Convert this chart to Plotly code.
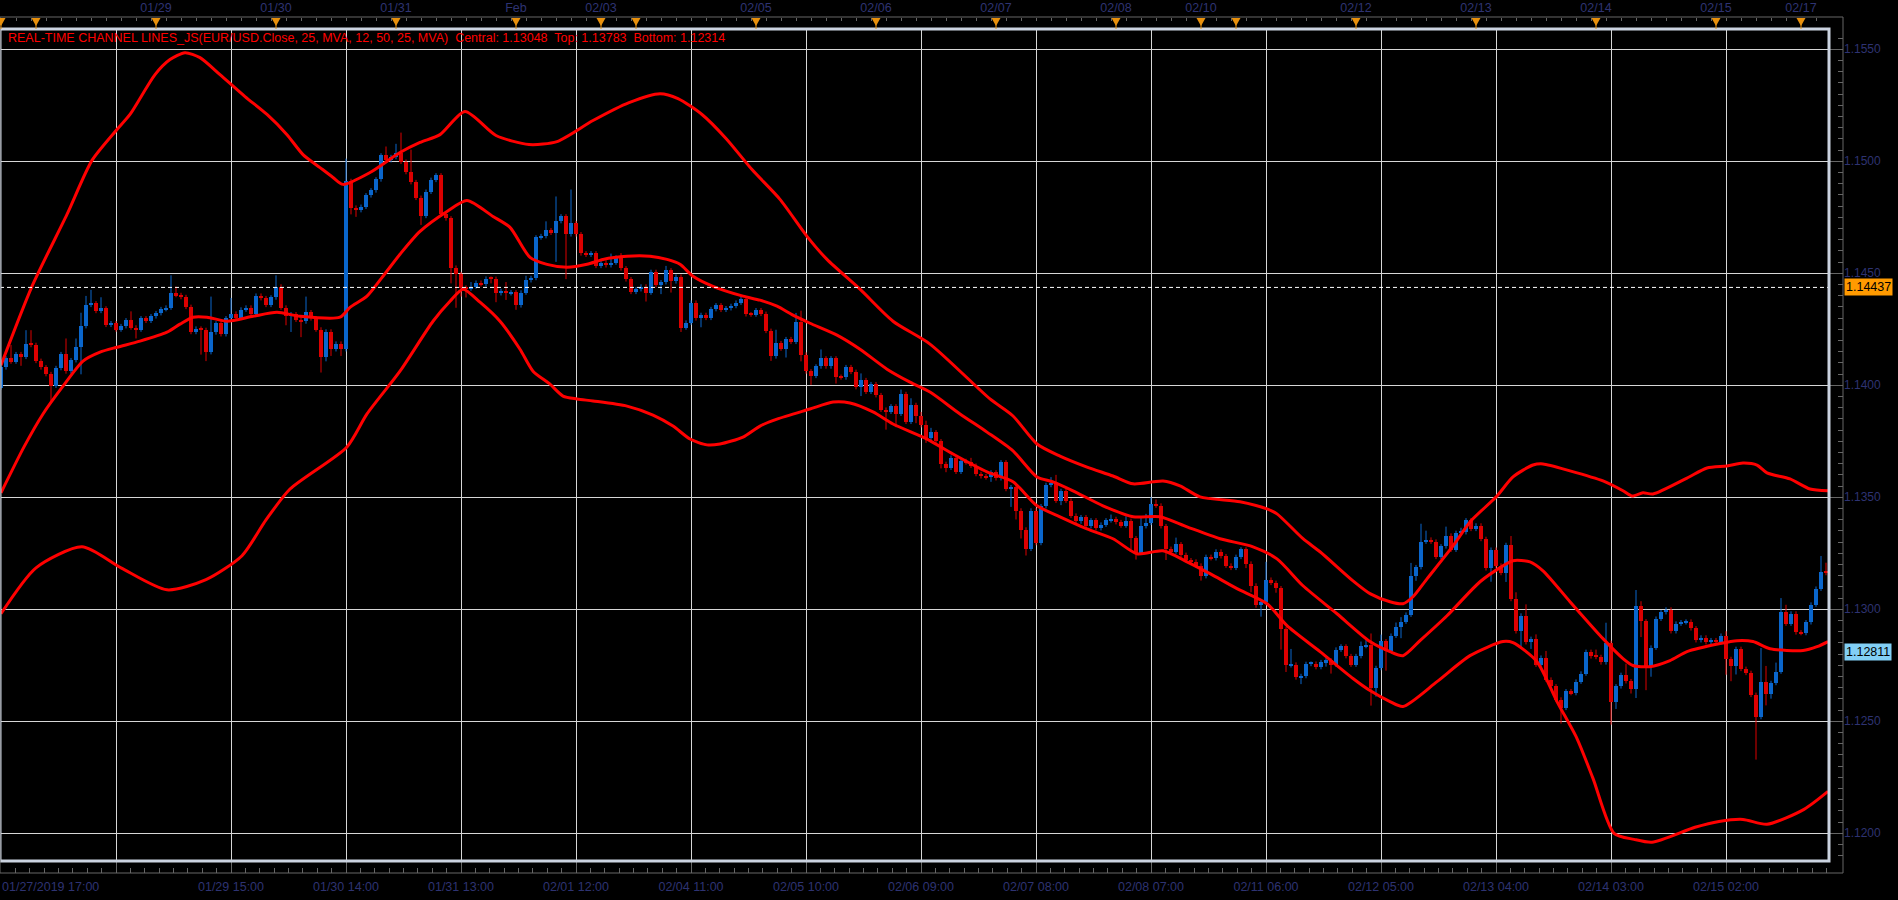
import plotly.graph_objects as go

# ---------------- data ----------------
FIRST_OPEN = 1.13990
closes = [
 1.14080,1.14120,1.14106,1.14139,1.14127,1.14186,1.14180,1.14109,1.14080,1.14050,
 1.13998,1.14077,1.14139,1.14062,1.14112,1.14169,1.14264,1.14359,1.14366,1.14332,
 1.14343,1.14270,1.14277,1.14249,1.14264,1.14290,1.14258,1.14249,1.14299,1.14288,
 1.14308,1.14322,1.14340,1.14347,1.14411,1.14403,1.14394,1.14350,1.14238,1.14253,
 1.14247,1.14148,1.14236,1.14276,1.14228,1.14299,1.14320,1.14301,1.14338,1.14347,
 1.14317,1.14400,1.14389,1.14359,1.14392,1.14441,1.14347,1.14308,1.14317,1.14293,
 1.14285,1.14326,1.14299,1.14249,1.14127,1.14240,1.14161,1.14186,1.14161,1.14912,
 1.14793,1.14782,1.14797,1.14848,1.14870,1.14919,1.15026,1.15005,1.15019,1.15038,
 1.14998,1.14952,1.14907,1.14837,1.14756,1.14864,1.14917,1.14937,1.14763,1.14745,
 1.14525,1.14496,1.14436,1.14432,1.14441,1.14458,1.14451,1.14476,1.14475,1.14411,
 1.14421,1.14411,1.14415,1.14357,1.14414,1.14469,1.14479,1.14660,1.14666,1.14692,
 1.14681,1.14733,1.14754,1.14674,1.14724,1.14674,1.14589,1.14583,1.14589,1.14533,
 1.14548,1.14536,1.14548,1.14570,1.14522,1.14473,1.14417,1.14429,1.14441,1.14414,
 1.14506,1.14447,1.14460,1.14513,1.14464,1.14485,1.14258,1.14280,1.14369,1.14299,
 1.14314,1.14301,1.14340,1.14357,1.14337,1.14344,1.14354,1.14369,1.14387,1.14317,
 1.14316,1.14335,1.14319,1.14243,1.14129,1.14188,1.14164,1.14206,1.14194,1.14283,
 1.14137,1.14062,1.14042,1.14084,1.14120,1.14084,1.14120,1.14038,1.14035,1.14081,
 1.14060,1.13992,1.14023,1.13971,1.14005,1.13956,1.13891,1.13882,1.13906,1.13873,
 1.13961,1.13837,1.13912,1.13861,1.13822,1.13763,1.13790,1.13750,1.13649,1.13632,
 1.13677,1.13614,1.13662,1.13656,1.13641,1.13604,1.13594,1.13589,1.13611,1.13585,
 1.13656,1.13537,1.13545,1.13441,1.13356,1.13270,1.13441,1.13296,1.13460,1.13555,
 1.13560,1.13485,1.13528,1.13485,1.13418,1.13392,1.13411,1.13371,1.13397,1.13362,
 1.13378,1.13397,1.13403,1.13389,1.13374,1.13395,1.13317,1.13252,1.13371,1.13386,
 1.13470,1.13463,1.13371,1.13270,1.13258,1.13290,1.13243,1.13219,1.13213,1.13195,
 1.13148,1.13234,1.13228,1.13258,1.13237,1.13195,1.13185,1.13234,1.13267,1.13204,
 1.13106,1.13017,1.13032,1.13132,1.13118,1.13094,1.12910,1.12750,1.12753,1.12696,
 1.12702,1.12756,1.12757,1.12742,1.12764,1.12772,1.12753,1.12820,1.12834,1.12791,
 1.12753,1.12791,1.12836,1.12842,1.12650,1.12738,1.12857,1.12816,1.12882,1.12921,
 1.12945,1.12976,1.13147,1.13188,1.13302,1.13311,1.13302,1.13234,1.13281,1.13329,
 1.13266,1.13341,1.13344,1.13397,1.13359,1.13374,1.13314,1.13183,1.13266,1.13195,
 1.13162,1.13287,1.13046,1.12902,1.12972,1.12853,1.12868,1.12753,1.12784,1.12686,
 1.12656,1.12597,1.12560,1.12634,1.12626,1.12677,1.12713,1.12810,1.12790,1.12787,
 1.12763,1.12850,1.12585,1.12656,1.12707,1.12679,1.12644,1.13016,1.12946,1.12749,
 1.12829,1.12958,1.12987,1.12999,1.12902,1.12936,1.12942,1.12945,1.12915,1.12862,
 1.12874,1.12853,1.12862,1.12853,1.12882,1.12778,1.12749,1.12823,1.12734,1.12716,
 1.12618,1.12519,1.12677,1.12621,1.12671,1.12722,1.12990,1.12936,1.12981,1.12897,
 1.12894,1.12942,1.13021,1.13092,1.13168,1.13162,
]
# wick lengths beyond the candle body, in pips (0.0001)
wick_up_pips = [
 1,1,6,1,1,6,6,1,1,1, 1,1,1,7,1,4,6,4,6,1, 5,1,1,1,1,1,4,1,1,1, 1,1,1,1,8,3,1,1,1,1,
 1,1,16,1,1,1,7,1,1,1, 1,1,1,1,1,5,1,1,1,1, 1,7,1,1,1,1,1,1,1,10, 1,1,1,1,1,1,1,4,1,4,
 9,1,10,1,1,1,1,1,1,1, 1,1,1,1,2,1,1,1,1,1, 1,4,1,1,1,2,1,1,1,4, 1,11,1,1,15,1,1,1,1,1,
 1,1,4,1,2,1,1,1,1,1, 1,1,1,2,1,1,1,1,1,1, 1,1,1,1,1,1,1,1,1,1, 1,1,1,1,1,6,1,1,1,4,
 5,1,1,1,4,1,1,1,1,1, 1,1,3,1,1,1,1,1,1,1, 2,1,3,1,2,2,2,1,1,1, 1,1,1,1,2,1,1,1,1,1,
 1,1,1,1,1,1,1,1,1,1, 3,4,1,1,1,1,1,1,1,1, 1,1,2,1,1,2,1,1,4,4, 3,2,1,1,1,3,1,1,1,1,
 1,1,1,1,1,1,1,1,1,1, 1,1,1,8,1,1,1,1,7,1, 1,1,1,1,1,1,1,1,1,1, 1,1,2,2,5,1,3,1,1,2,
 2,1,6,1,8,4,1,1,1,4, 1,1,2,1,1,1,1,1,1,1, 1,1,4,3,1,5,1,2,1,3, 1,1,1,1,1,1,1,1,1,3,
 1,9,1,1,1,5,1,7,2,1, 1,1,1,1,1,1,1,1,1,1, 1,1,1,1,1,2,1,1,1,1, 1,1,15,7,1,4,6,3,1,1,
 1,1,1,1,7,4,
]
wick_dn_pips = [
 1,1,1,1,4,1,1,1,1,1, 7,1,1,1,1,1,12,1,1,1, 1,1,1,1,1,1,1,4,1,1, 1,1,1,1,1,1,1,1,1,1,
 11,4,1,1,1,1,1,1,1,1, 1,1,1,1,1,1,1,4,7,1, 7,1,1,1,7,2,3,1,3,1, 3,3,1,1,1,1,1,1,1,1,
 1,1,1,1,4,1,1,1,1,1, 7,15,4,4,1,1,1,1,2,4, 1,3,1,2,1,1,1,1,1,1, 1,13,1,20,1,1,1,1,1,1,
 1,1,1,1,1,1,1,1,1,4, 1,1,4,1,5,1,2,1,1,1, 4,1,1,1,1,1,1,1,1,1, 1,1,1,1,2,1,1,4,1,1,
 3,1,4,1,1,1,1,3,1,1, 1,1,4,1,1,1,1,8,1,6, 1,1,1,3,1,2,1,1,2,2, 1,1,1,1,1,1,1,1,2,1,
 1,1,8,4,4,3,1,1,1,1, 1,1,2,1,1,1,1,1,1,1, 1,1,1,1,1,1,5,3,1,1, 1,1,1,5,1,1,1,1,1,1,
 2,1,1,1,1,1,1,1,1,2, 3,1,5,1,1,2,9,3,1,1, 3,1,1,1,1,2,4,1,1,1, 1,1,1,1,8,4,1,9,1,1,
 5,1,1,2,1,1,1,1,1,1, 1,1,1,1,1,1,1,1,6,1, 1,4,1,1,7,1,3,1,1,1, 1,1,7,1,1,1,1,1,1,1,
 1,1,10,3,1,1,2,4,7,11, 5,1,1,1,1,1,1,1,1,1, 1,1,1,1,1,7,7,4,1,1, 1,19,1,5,2,1,1,1,1,1,
 1,1,1,1,1,1,
]

# channel lines (bar position, price)
top_x = [0,6.2,13.2,18.2,23.2,25.8,30.8,33.8,36.8,39.8,43.8,48.8,53.2,57.2,60.4,63.8,66.4,68.4,73.8,79.8,
         83.8,87.8,92.8,99,105.6,111.2,118.4,125.6,131.8,135.4,140.2,145,150.2,155.8,161.2,165.2,171.8,178.4,185.8,197.8,
         202.4,207.2,211.8,217.2,222.4,226.4,230.4,232.4,235.8,239.8,247.8,253.2,255.2,260.4,263.8,270.4,273.8,277.8,280.4,282.4,
         285.2,290.4,293.8,299.2,302.4,306.4,308.4,313.8,320.4,324.4,326.2,328.4,330.4,337.2,341.2,345.2,348.4,351.2,353.2,357.8,
         361.8,365.4]
top_y = [1.14090,1.14442,1.14763,1.15004,1.15142,1.15209,1.15387,1.15454,1.15485,1.15463,1.15387,1.15289,1.15209,1.15119,1.15030,1.14972,1.14928,1.14897,1.14950,1.15039,
         1.15084,1.15119,1.15222,1.15115,1.15075,1.15088,1.15182,1.15262,1.15302,1.15280,1.15209,1.15102,1.14963,1.14830,1.14665,1.14562,1.14429,1.14286,1.14184,1.13939,
         1.13863,1.13738,1.13684,1.13635,1.13595,1.13560,1.13569,1.13573,1.13551,1.13502,1.13480,1.13448,1.13426,1.13315,1.13257,1.13127,1.13070,1.13034,1.13025,1.13056,
         1.13136,1.13283,1.13390,1.13506,1.13591,1.13644,1.13649,1.13618,1.13573,1.13529,1.13506,1.13520,1.13515,1.13586,1.13631,1.13640,1.13653,1.13644,1.13609,1.13582,
         1.13537,1.13529]
mid_x = [0,4.6,8.4,12.4,16.4,19.8,23.2,27.8,33.2,35.8,38.4,41.2,45.2,50.4,55.2,59.8,67.8,69.8,73.2,76.4,
         79.8,83.8,89.2,93.2,98.4,101.8,105.8,109.2,113.2,117.2,120.4,125.2,129.8,133.2,135.8,138.4,142.4,148.4,151.8,155.2,
         158.4,161.8,167.2,171.8,177.2,181.8,185.8,191.8,197.2,202.4,207.2,210.4,214.4,220.4,226.4,231.8,237.2,243.8,250.4,255.2,
         260.4,267.2,273.8,277.8,280.4,283.8,289.2,295.8,300.4,302.4,305.8,308.4,313.8,320.4,324.4,326.4,329.8,333.8,337.2,343.8,
         347.2,350.4,353.8,360.4,363.2,365.4]
mid_y = [1.13520,1.13725,1.13872,1.13996,1.14108,1.14148,1.14170,1.14197,1.14237,1.14273,1.14304,1.14304,1.14286,1.14308,1.14326,1.14308,1.14304,1.14348,1.14398,1.14487,
         1.14585,1.14687,1.14776,1.14825,1.14754,1.14705,1.14571,1.14540,1.14527,1.14540,1.14562,1.14576,1.14576,1.14562,1.14540,1.14487,1.14442,1.14398,1.14380,1.14353,
         1.14313,1.14277,1.14224,1.14161,1.14072,1.14014,1.13970,1.13872,1.13791,1.13707,1.13591,1.13569,1.13529,1.13462,1.13413,1.13413,1.13368,1.13315,1.13279,1.13225,
         1.13105,1.12980,1.12856,1.12811,1.12793,1.12860,1.12971,1.13123,1.13194,1.13217,1.13212,1.13172,1.13034,1.12869,1.12780,1.12749,1.12744,1.12771,1.12811,1.12847,
         1.12860,1.12856,1.12824,1.12816,1.12833,1.12856]
bot_x = [0,7,16.2,24,33.2,41,48.2,53,57.8,69.2,73.2,79.8,86.4,89.8,92.4,95.8,99.8,103.8,106.4,109.8,
         112.4,115.2,118.4,125.2,130.4,134.4,137.8,141.2,143.8,148.4,151.8,155.2,161.8,166.4,169.8,174.4,178.4,185.2,190.4,197.2,
         202.4,207.2,211.8,217.2,222.4,227.2,232.4,237.2,241.8,247.2,253.2,257.2,263.8,270.4,273.8,277.8,280.4,287.2,293.8,300.4,
         302.4,307.2,311.2,315.2,318.4,322.6,326.6,330.2,338.8,343.6,348.4,353.2,360.6,365.4]
bot_y = [1.12980,1.13185,1.13279,1.13185,1.13087,1.13132,1.13239,1.13399,1.13537,1.13725,1.13872,1.14063,1.14286,1.14375,1.14429,1.14371,1.14286,1.14161,1.14063,1.14005,
         1.13952,1.13939,1.13930,1.13907,1.13867,1.13818,1.13760,1.13734,1.13738,1.13769,1.13818,1.13849,1.13894,1.13925,1.13921,1.13881,1.13827,1.13760,1.13693,1.13613,
         1.13569,1.13462,1.13413,1.13359,1.13315,1.13248,1.13261,1.13212,1.13159,1.13092,1.13025,1.12927,1.12811,1.12691,1.12637,1.12588,1.12566,1.12677,1.12793,1.12856,
         1.12851,1.12766,1.12588,1.12423,1.12245,1.12000,1.11973,1.11960,1.12027,1.12053,1.12062,1.12040,1.12107,1.12187]

# time axis (bars are hourly, weekends skipped)
grid_bars = [0,23,46,69,92,115,138,161,184,207,230,253,276,299,322,345]
bottom_labels = ["", "", "01/29 15:00", "01/30 14:00", "01/31 13:00", "02/01 12:00", "02/04 11:00",
                 "02/05 10:00", "02/06 09:00", "02/07 08:00", "02/08 07:00", "02/11 06:00",
                 "02/12 05:00", "02/13 04:00", "02/14 03:00", "02/15 02:00"]
first_label = "01/27/2019 17:00"
day_marker_bars = [0,7,31,55,79,103,120,127,151,175,199,223,240,247,271,295,319,343,360,367]
top_label_bars = [31,55,79,103,120,151,175,199,223,240,271,295,319,343,360]
top_labels = ["01/29","01/30","01/31","Feb","02/03","02/05","02/06","02/07","02/08","02/10",
              "02/12","02/13","02/14","02/15","02/17"]
last_price = 1.14437
central_price = 1.12811
title_text = ("REAL-TIME CHANNEL LINES_JS(EUR/USD.Close, 25, MVA, 12, 50, 25, MVA)  "
              "Central: 1.13048  Top: 1.13783  Bottom: 1.12314")

# ---------------- build ----------------
PIP = 0.0001
UP_C = "#0a66cc"
DN_C = "#dc0000"
LINE_C = "#ff0000"
MARK_C = "#e8900c"
NAVY = "#2e3372"
GRID = "#d6d6d6"
AXC = "#666666"
FONT = "Liberation Sans"

W, H = 1898, 900
ML, MR, MT, MB = 0, 55, 17, 27
paper_w = W - ML - MR
paper_h = H - MT - MB
plot_right = 1829
plot_top, plot_bot = 29, 861
Y_RANGE = [1.118763, 1.155906]
X_RANGE = [-0.2, 365.6]
x_dom = [0, plot_right / paper_w]
y_dom = [(H - MB - plot_bot) / paper_h, (H - MB - plot_top) / paper_h]
def py(pix):
    return (H - MB - pix) / paper_h

n = len(closes)
bars = list(range(n))
opens = [FIRST_OPEN] + closes[:-1]
highs = [max(o, c) + u * PIP for o, c, u in zip(opens, closes, wick_up_pips)]
lows = [min(o, c) - d * PIP for o, c, d in zip(opens, closes, wick_dn_pips)]

bases, heights, colors = [], [], []
for o, c in zip(opens, closes):
    bases.append(min(o, c))
    heights.append(max(abs(c - o), 0.00005))
    colors.append(UP_C if c >= o else DN_C)

wx_up, wy_up, wx_dn, wy_dn = [], [], [], []
for i, o, c, h, l in zip(bars, opens, closes, highs, lows):
    if c >= o:
        wx_up += [i, i, None]; wy_up += [l, h, None]
    else:
        wx_dn += [i, i, None]; wy_dn += [l, h, None]

fig = go.Figure()
fig.add_trace(go.Scatter(x=wx_up, y=wy_up, mode="lines", line=dict(color=UP_C, width=1), hoverinfo="skip"))
fig.add_trace(go.Scatter(x=wx_dn, y=wy_dn, mode="lines", line=dict(color=DN_C, width=1), hoverinfo="skip"))
fig.add_trace(go.Bar(x=bars, y=heights, base=bases, width=0.8,
                     marker=dict(color=colors, line=dict(width=0))))
for xs, ys in ((top_x, top_y), (mid_x, mid_y), (bot_x, bot_y)):
    fig.add_trace(go.Scatter(x=xs, y=ys, mode="lines",
                             line=dict(color=LINE_C, width=3, shape="spline", smoothing=0.7),
                             hoverinfo="skip"))
# empty trace so that the top time axis is drawn
fig.add_trace(go.Scatter(x=top_label_bars, y=[None] * len(top_label_bars), xaxis="x2",
                         mode="markers", hoverinfo="skip", showlegend=False))

tickfont = dict(family=FONT, size=12.5, color=NAVY)
fig.update_layout(
    width=W, height=H,
    margin=dict(l=ML, r=MR, t=MT, b=MB, pad=0),
    paper_bgcolor="#000000", plot_bgcolor="#000000",
    showlegend=False, bargap=0,
    xaxis=dict(domain=x_dom, range=X_RANGE, anchor="free", position=0,
               tickmode="array", tickvals=grid_bars, ticktext=bottom_labels,
               ticks="inside", ticklen=12, tickcolor=AXC, tickwidth=1, ticklabelstandoff=4,
               minor=dict(ticks="inside", ticklen=5, tick0=0, dtick=23 / 8, tickcolor=AXC, showgrid=False),
               showgrid=True, gridcolor=GRID, gridwidth=1, zeroline=False, showline=False,
               tickfont=tickfont),
    xaxis2=dict(overlaying="x", range=X_RANGE, anchor="free", position=1, side="top",
                tickmode="array", tickvals=top_label_bars, ticktext=top_labels,
                ticks="inside", ticklen=4, tickcolor=AXC, ticklabelstandoff=3,
                minor=dict(ticks="inside", ticklen=3, tick0=0, dtick=3, tickcolor=AXC, showgrid=False),
                showgrid=False, zeroline=False, showline=False, tickfont=tickfont),
    yaxis=dict(domain=y_dom, range=Y_RANGE, anchor="free", position=1, side="right",
               tick0=1.12, dtick=0.005, tickformat=".4f",
               ticks="inside", ticklen=14, tickcolor=AXC, tickwidth=1,
               minor=dict(ticks="inside", ticklen=5, dtick=0.0005, tickcolor=AXC, showgrid=False),
               showgrid=True, gridcolor=GRID, gridwidth=1, zeroline=False, showline=False,
               tickfont=dict(family=FONT, size=12, color=NAVY)),
)

fig.add_shape(type="line", xref="x domain", x0=0, x1=1, yref="y", y0=last_price, y1=last_price,
              line=dict(color="#ffffff", width=1, dash="4px,3px"))
fig.add_shape(type="rect", xref="x domain", yref="y domain", x0=0, x1=1, y0=0, y1=1,
              line=dict(color="#cbd3e0", width=3), layer="above")
fig.add_shape(type="rect", xref="paper", yref="paper", x0=0, x1=1, y0=0, y1=1,
              line=dict(color=AXC, width=1), layer="above")

# day markers on the top time scale: orange triangles with stems down to the frame
for b in day_marker_bars:
    fig.add_shape(type="line", xref="x", yref="paper", x0=b, x1=b, y0=py(24), y1=py(29),
                  line=dict(color=MARK_C, width=1), layer="above")
    fig.add_shape(type="path", xref="x", yref="paper",
                  path=f"M {b - 0.9},{py(18)} L {b + 0.9},{py(18)} L {b},{py(26)} Z",
                  fillcolor=MARK_C, line=dict(width=0), layer="above")

fig.add_annotation(text=title_text, xref="paper", yref="paper", x=6 / paper_w, y=py(38),
                   xanchor="left", yanchor="middle", showarrow=False,
                   font=dict(family=FONT, size=12.5, color="#ff0000"))
fig.add_annotation(text=first_label, xref="paper", yref="paper", x=0, y=py(887),
                   xanchor="left", yanchor="middle", showarrow=False, font=tickfont)
fig.add_annotation(text=f"{last_price:.5f}", xref="paper", yref="y", x=1.0005, y=last_price,
                   xanchor="left", yanchor="middle", showarrow=False, bgcolor="#ff9a00",
                   borderpad=1, font=dict(family=FONT, size=12.5, color="#000000"))
fig.add_annotation(text=f"{central_price:.5f}", xref="paper", yref="y", x=1.0005, y=central_price,
                   xanchor="left", yanchor="middle", showarrow=False, bgcolor="#82cff5",
                   borderpad=1, font=dict(family=FONT, size=12.5, color="#000000"))

fig.write_html("out.html")
